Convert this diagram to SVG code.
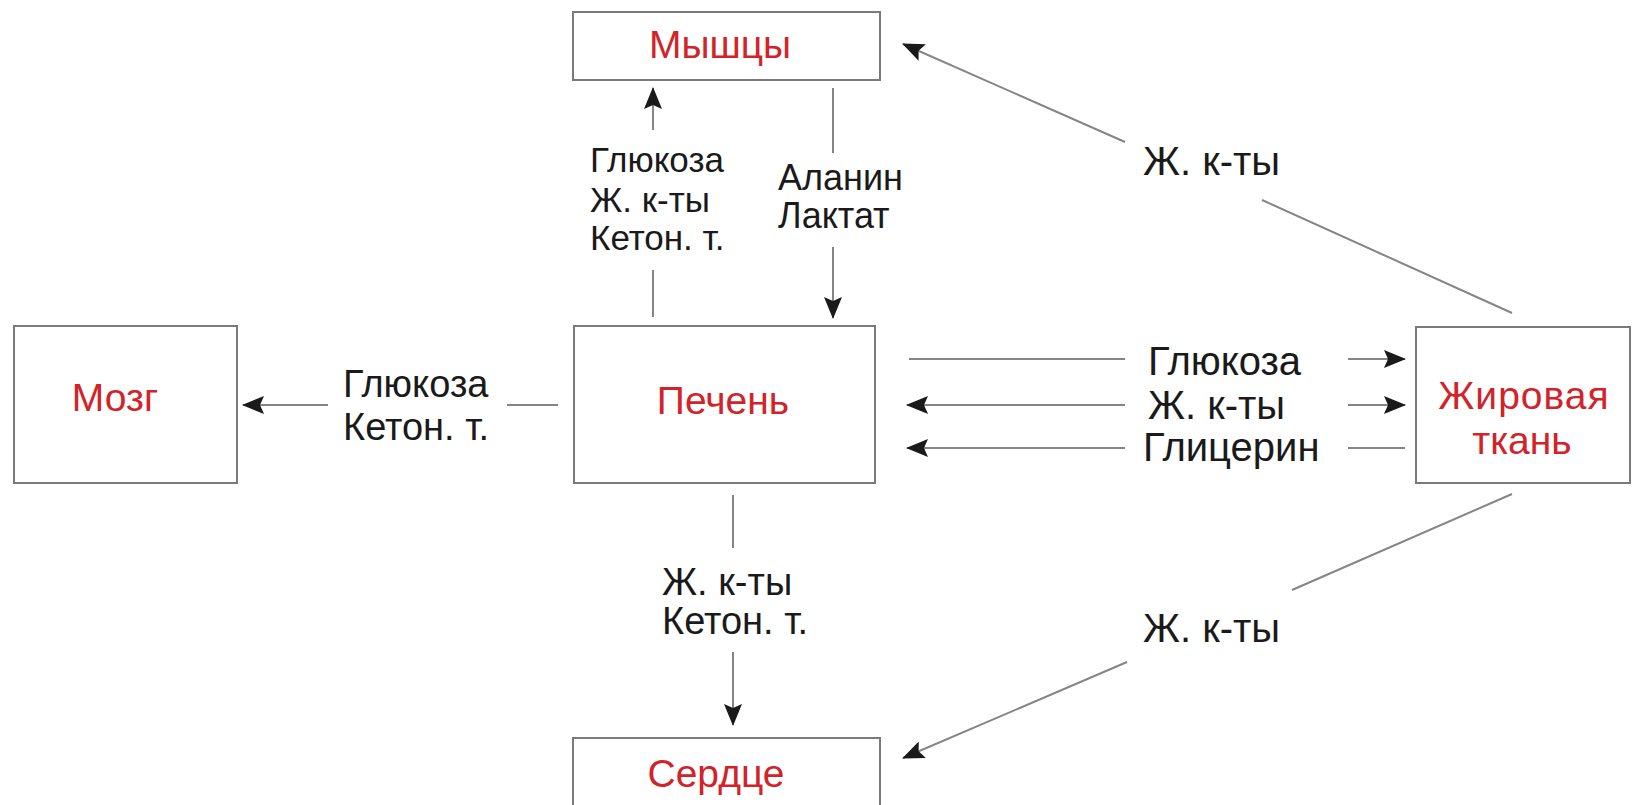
<svg xmlns="http://www.w3.org/2000/svg" width="1640" height="805" viewBox="0 0 1640 805">
<defs>
<style>
.box{fill:#fff;stroke:#7a7a7a;stroke-width:2}
.nt{font-family:"Liberation Sans",Arial,sans-serif;font-size:39px;fill:#d2232a;text-anchor:middle}
.lb{font-family:"Liberation Sans",Arial,sans-serif;font-size:38px;fill:#1a1a1a}
.sm{font-size:35px}
.md{font-size:36px}
.lg{font-size:40px}
.ln{stroke:#858585;stroke-width:2;fill:none}
.ar{marker-end:url(#ah)}
</style>
<marker id="ah" viewBox="0 0 22 18" refX="21" refY="9" markerWidth="22" markerHeight="18" orient="auto" markerUnits="userSpaceOnUse">
<path d="M0,0 L22,9 L0,18 L4,9 z" fill="#1a1a1a"/>
</marker>
</defs>
<rect width="1640" height="805" fill="#fff"/>
<g id="connectors">
<line class="ln" x1="653" y1="317" x2="653" y2="270"/>
<line class="ln ar" x1="653" y1="130" x2="653" y2="88"/>
<line class="ln" x1="833" y1="88" x2="833" y2="153"/>
<line class="ln ar" x1="833" y1="247" x2="833" y2="318"/>
<line class="ln" x1="558" y1="405" x2="507" y2="405"/>
<line class="ln ar" x1="328" y1="405" x2="243" y2="405"/>
<line class="ln" x1="909" y1="359" x2="1125" y2="359"/>
<line class="ln ar" x1="1348" y1="359" x2="1405" y2="359"/>
<line class="ln ar" x1="1125" y1="405" x2="907" y2="405"/>
<line class="ln ar" x1="1348" y1="405" x2="1405" y2="405"/>
<line class="ln ar" x1="1125" y1="448" x2="907" y2="448"/>
<line class="ln" x1="1348" y1="448" x2="1405" y2="448"/>
<line class="ln" x1="1512" y1="313" x2="1262" y2="200"/>
<line class="ln ar" x1="1125" y1="142" x2="903" y2="44"/>
<line class="ln" x1="1512" y1="494" x2="1292" y2="590"/>
<line class="ln ar" x1="1127" y1="662" x2="903" y2="758"/>
<line class="ln" x1="733" y1="495" x2="733" y2="548"/>
<line class="ln ar" x1="733" y1="652" x2="733" y2="725"/>
</g>
<g id="labels">
<text class="lb sm" x="590" y="172">Глюкоза</text>
<text class="lb sm" x="590" y="212">Ж. к-ты</text>
<text class="lb sm" x="590" y="250">Кетон. т.</text>
<text class="lb md" x="778" y="190">Аланин</text>
<text class="lb md" x="778" y="228">Лактат</text>
<text class="lb" x="343" y="397">Глюкоза</text>
<text class="lb" x="343" y="440">Кетон. т.</text>
<text class="lb lg" x="1148" y="375">Глюкоза</text>
<text class="lb lg" x="1148" y="419">Ж. к-ты</text>
<text class="lb lg" x="1143" y="461">Глицерин</text>
<text class="lb lg" x="1143" y="175">Ж. к-ты</text>
<text class="lb lg" x="1143" y="642">Ж. к-ты</text>
<text class="lb" x="662" y="595">Ж. к-ты</text>
<text class="lb" x="662" y="634">Кетон. т.</text>
</g>
<g id="node-myshcy">
<rect class="box" x="573" y="12" width="307" height="68"/>
<text class="nt" x="720" y="58" font-size="37">Мышцы</text>
</g>
<g id="node-mozg">
<rect class="box" x="14" y="326" width="223" height="157"/>
<text class="nt" x="115" y="411" font-size="40">Мозг</text>
</g>
<g id="node-pechen">
<rect class="box" x="574" y="326" width="301" height="157"/>
<text class="nt" x="723" y="414">Печень</text>
</g>
<g id="node-zhir">
<rect class="box" x="1416" y="327" width="214" height="156"/>
<text class="nt" x="1524" y="409" letter-spacing="1">Жировая</text>
<text class="nt" x="1522" y="454">ткань</text>
</g>
<g id="node-serdce">
<rect class="box" x="573" y="738" width="307" height="90"/>
<text class="nt" x="716" y="787">Сердце</text>
</g>
</svg>
